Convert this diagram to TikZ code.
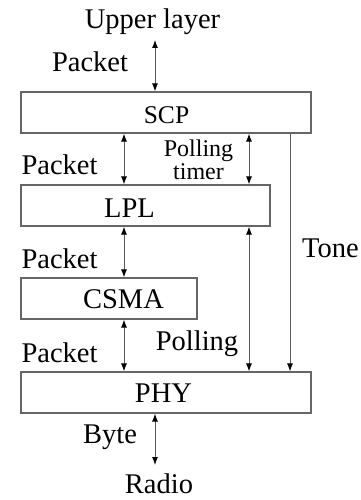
\documentclass[tikz,border=0pt]{standalone}
\usepackage{fontspec}
\setmainfont{Liberation Serif}
\usetikzlibrary{arrows.meta}
\begin{document}
\begin{tikzpicture}[x=1pt,y=-1pt,
  layerbox/.style={draw=black!60, line width=1.1pt, fill=white, inner sep=0pt},
  lbl/.style={anchor=base, inner sep=0pt, font=\fontsize{28.5}{30}\selectfont},
  small/.style={align=center, font=\fontsize{24}{20}\selectfont},
  conn/.style={draw=black!65, line width=1pt},
  both/.style={conn, {Latex[length=8pt,width=6pt,color=black]}-{Latex[length=8pt,width=6pt,color=black]}},
  one/.style={conn, -{Latex[length=8pt,width=6pt,color=black]}}]
\useasboundingbox (0,0) rectangle (360,500);

% protocol layers
\node[layerbox, minimum width=290pt, minimum height=41pt] (scp)  at (166,112.5) {};
\node[layerbox, minimum width=249pt, minimum height=41pt] (lpl)  at (145.5,205.5) {};
\node[layerbox, minimum width=176pt, minimum height=41pt] (csma) at (109,298.5) {};
\node[layerbox, minimum width=290pt, minimum height=41pt] (phy)  at (166,392.5) {};

% layer names
\node[lbl, font=\fontsize{25.5}{27}\selectfont] (scpt) at (166.5,123) {SCP};
\node[lbl] (lplt)  at (129.5,217) {LPL};
\node[lbl] (csmat) at (123.5,308) {CSMA};
\node[lbl] (phyt)  at (163.5,402) {PHY};

% outside ends
\node[lbl] (upper) at (152.5,29) {Upper layer};
\node[lbl] (radio) at (159,493) {Radio};

% connector labels
\node[lbl] (pk1) at (90,72) {Packet};
\node[lbl] (pk2) at (59.5,174) {Packet};
\node[lbl] (pk3) at (59.5,268) {Packet};
\node[lbl] (pk4) at (59.5,362) {Packet};
\node[lbl] (byte) at (110,443) {Byte};
\node[lbl] (poll) at (197,350) {Polling};
\node[lbl] (tone) at (330.5,257) {Tone};
% two-line label: the base anchor sits on the last line
\node[lbl, small] (ptimer) at (198.5,179) {Polling\\timer};

% connector columns
\coordinate (cA) at (155,0);
\coordinate (cB) at (124,0);
\coordinate (cC) at (249,0);
\coordinate (cD) at (290,0);
\coordinate (topend) at (155,40);
\coordinate (botend) at (155,465);

\draw[both] (topend) -- (scp.north -| cA);
\draw[both] (scp.south -| cB) -- (lpl.north -| cB);
\draw[both] (scp.south -| cC) -- (lpl.north -| cC);
\draw[one]  (scp.south -| cD) -- (phy.north -| cD);
\draw[both] (lpl.south -| cB) -- (csma.north -| cB);
\draw[both] (lpl.south -| cC) -- (phy.north -| cC);
\draw[both] (csma.south -| cB) -- (phy.north -| cB);
\draw[both] (phy.south -| cA) -- (botend);
\end{tikzpicture}
\end{document}
